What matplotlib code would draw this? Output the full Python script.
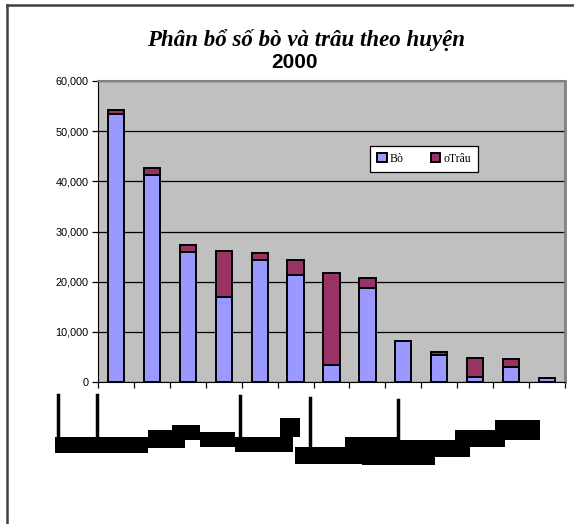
import matplotlib
matplotlib.use("Agg")
import matplotlib.pyplot as plt
from matplotlib.patches import Rectangle
from matplotlib.lines import Line2D
from matplotlib.ticker import FuncFormatter
import numpy as np

# values (head of cattle, by district)
bo = [53400, 41200, 25900, 16900, 24300, 21300, 3300, 18800, 8200, 5400, 1000, 2900, 800]
trau = [800, 1500, 1400, 9300, 1500, 3000, 18500, 1900, 0, 600, 3800, 1600, 0]
y_ticks = [0, 10000, 20000, 30000, 40000, 50000, 60000]

W, H = 574, 524
fig = plt.figure(figsize=(W / 100, H / 100), dpi=100)

def px(x0, y0, x1, y1):
    # pixel box -> figure fraction [left, bottom, width, height]
    return [x0 / W, 1 - y1 / H, (x1 - x0) / W, (y1 - y0) / H]

ax = fig.add_axes(px(98, 81, 565, 382))
ax.set_facecolor("#C0C0C0")

x = np.arange(len(bo))
ax.bar(x, bo, width=0.45, color="#9999FF", edgecolor="black", linewidth=1.4,
       label="Bò", zorder=3)
ax.bar(x, trau, width=0.45, bottom=bo, color="#993366", edgecolor="black",
       linewidth=1.4, label="oTrâu", zorder=3)

ax.set_xlim(-0.5, len(bo) - 0.5)
ax.set_ylim(0, 60000)
ax.set_yticks(y_ticks)
ax.yaxis.set_major_formatter(FuncFormatter(lambda v, p: f"{int(v):,}"))
ax.grid(axis="y", color="black", linewidth=0.9, zorder=1)
ax.tick_params(axis="y", direction="out", length=4, width=0.9, labelsize=7.8,
               pad=3)
for lab in ax.get_yticklabels():
    lab.set_fontfamily("Liberation Sans")

# x ticks sit between categories, labels are unreadable in the source
ax.set_xticks(np.arange(-0.5, len(bo) + 0.5, 1))
ax.set_xticklabels([])
ax.tick_params(axis="x", direction="out", length=4, width=0.9)

ax.spines["left"].set_color("black")
ax.spines["bottom"].set_color("black")
ax.spines["top"].set_color("#808080")
ax.spines["right"].set_color("#808080")
ax.spines["right"].set_linewidth(2)
ax.spines["top"].set_linewidth(1.5)

leg = ax.legend(loc="upper left", bbox_to_anchor=(272 / 467, 1 - 65 / 301),
                ncol=2, frameon=True, fancybox=False, edgecolor="black",
                framealpha=1, handlelength=0.8, handleheight=0.8,
                handletextpad=0.25, columnspacing=2.3, borderpad=0.6,
                borderaxespad=0,
                prop={"family": "Liberation Serif", "size": 8.5})
leg.get_frame().set_linewidth(0.9)
leg.set_zorder(5)

fig.text(306 / W, 1 - 40 / H, "Phân bổ số bò và trâu theo huyện",
         ha="center", va="center", family="Liberation Serif",
         style="italic", weight="bold", fontsize=16.5)
fig.text(295 / W, 1 - 63 / H, "2000", ha="center", va="center",
         family="Liberation Sans", weight="bold", fontsize=15)

# garbled category-label rendering under the axis (black blocks)
blocks = [(55, 437, 148, 453), (148, 430, 185, 448), (172, 425, 200, 440),
          (200, 432, 235, 447), (235, 437, 293, 452), (280, 418, 300, 437),
          (295, 447, 362, 464), (362, 452, 435, 465), (345, 437, 398, 452),
          (398, 440, 470, 457), (455, 430, 505, 447), (495, 420, 540, 440)]
for b in blocks:
    fig.add_artist(Rectangle((b[0] / W, 1 - b[3] / H), (b[2] - b[0]) / W,
                             (b[3] - b[1]) / H, transform=fig.transFigure,
                             facecolor="black", edgecolor="none"))
for vx, vy0, vy1 in [(58, 395, 437), (97, 395, 437), (240, 396, 437),
                     (310, 398, 447), (398, 400, 452)]:
    fig.add_artist(Line2D([vx / W, vx / W], [1 - vy0 / H, 1 - vy1 / H],
                          transform=fig.transFigure, color="black", lw=2.5))

# outer frame of the chart object
fig.add_artist(Line2D([7 / W, 7 / W], [0, 1 - 5 / H], transform=fig.transFigure,
                      color="#404040", lw=1.8))
fig.add_artist(Line2D([7 / W, 1], [1 - 5 / H, 1 - 5 / H],
                      transform=fig.transFigure, color="#404040", lw=1.8))

fig.savefig("out.png", dpi=100)
